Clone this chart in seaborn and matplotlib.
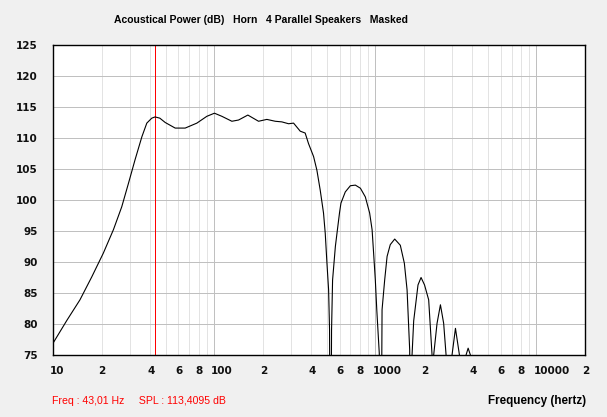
import numpy as np
import pandas as pd
import matplotlib
matplotlib.use("Agg")
import matplotlib.pyplot as plt
import matplotlib.transforms as mtransforms
import seaborn as sns
from matplotlib.ticker import FixedLocator, NullFormatter

# ---- data ----
freq_hz = [10, 12.2, 14.7, 17.4, 20.5, 23.7, 26.7, 29.4, 32.3, 35.6, 38.2, 41.0, 43.0,
           46.0, 49.7, 57.3, 66.1, 78.1, 90.1, 100.4, 111.6, 128.8, 141.7, 161.8, 188.5,
           212.3, 239.3, 263, 289.5, 311, 342, 367, 385, 414, 434, 455, 477, 489, 501, 513, 520,
           527,
           535, 543, 565, 578, 600, 612, 651, 700, 752, 808, 867, 922, 955, 976, 1000, 1021, 1058,
           1078,
           1101, 1143, 1183, 1238, 1319, 1429, 1514, 1574, 1634,
           1660,
           1690, 1730, 1840, 1922, 2020, 2143, 2249,
           2275,
           2302, 2415, 2535, 2655, 2748,
           2850,
           2992, 3142, 3326,
           3480,
           3656, 3766, 3890,
           4000]
spl_db = [76.9, 80.6, 83.9, 87.6, 91.4, 95.2, 98.9, 102.7, 106.5, 110.2, 112.4, 113.2, 113.4,
          113.2, 112.5, 111.6, 111.6, 112.4, 113.5, 114.0, 113.5, 112.7, 112.9, 113.7, 112.7,
          113.0, 112.7, 112.6, 112.3, 112.4, 111.1, 110.8, 109.1, 107.0, 104.8, 101.6, 97.9, 94.6, 89.8, 85.5, 79.0,
          40.0,
          79.0, 87.1, 92.5, 94.6, 98.0, 99.5, 101.3, 102.3, 102.4, 101.9, 100.5, 97.9, 95.2, 91.4, 87.1, 82.3, 75.3,
          40.0,
          82.3, 87.1, 90.9, 92.8, 93.7, 92.7, 89.8, 85.5, 75.8,
          40.0,
          75.0, 80.5, 86.3, 87.5, 86.3, 83.9, 75.0,
          40.0,
          75.0, 80.1, 83.1, 80.1, 75.0,
          40.0,
          75.0, 79.3, 75.0,
          40.0,
          75.0, 76.1, 75.0,
          40.0]

cursor_freq = 43.01
title_text = "Acoustical Power (dB)   Horn   4 Parallel Speakers   Masked"
status_text = "Freq : 43,01 Hz     SPL : 113,4095 dB"
xlabel_text = "Frequency (hertz)"
y_ticks = [75, 80, 85, 90, 95, 100, 105, 110, 115, 120, 125]
x_tick_vals = [10, 20, 40, 60, 80, 100, 200, 400, 600, 800, 1000, 2000, 4000, 6000, 8000, 10000, 20000]
x_tick_labels = ["10", "2", "4", "6", "8", "100", "2", "4", "6", "8", "1000", "2", "4", "6", "8", "10000", "2"]

df = pd.DataFrame({"freq": freq_hz, "spl": spl_db})

# ---- figure ----
W, H = 607, 417
fig = plt.figure(figsize=(W / 100, H / 100), dpi=100, facecolor="#f0f0f0")
ax = fig.add_axes([53 / W, 1 - 355 / H, (585 - 53) / W, (355 - 45) / H])
ax.set_facecolor("white")
ax.set_xscale("log")
ax.set_xlim(10, 20000)
ax.set_ylim(75, 125)

# grid
LW = 0.72
minor_pos = [m * 10 ** d for d in range(1, 5) for m in range(2, 10) if m * 10 ** d < 20000]
for x in minor_pos:
    ax.axvline(x, color="#e3e3e3", lw=LW, zorder=0)
for x in [100, 1000, 10000]:
    ax.axvline(x, color="#c0c0c0", lw=LW, zorder=0)
for y in y_ticks[1:-1]:
    ax.axhline(y, color="#c0c0c0", lw=LW, zorder=0)

ax.axvline(cursor_freq, color="#ff0000", lw=LW, zorder=1)

sns.lineplot(data=df, x="freq", y="spl", ax=ax, color="black", lw=0.8, zorder=2,
             sort=False, estimator=None)

ax.set_xlabel("")
ax.set_ylabel("")
ax.xaxis.set_major_locator(FixedLocator(x_tick_vals))
ax.set_xticklabels(x_tick_labels)
ax.xaxis.set_minor_formatter(NullFormatter())
ax.xaxis.set_minor_locator(FixedLocator([]))
ax.set_yticks(y_ticks)
ax.set_yticklabels([str(v) for v in y_ticks])
ax.tick_params(axis="both", length=0, labelsize=7.5, colors="#101010")
ax.tick_params(axis="y", pad=10.8)
ax.tick_params(axis="x", pad=8)
shift = mtransforms.ScaledTranslation(-3 / 100, 0, fig.dpi_scale_trans)
for lab in ax.get_xticklabels():
    lab.set_fontweight("bold")
    lab.set_horizontalalignment("left")
    lab.set_transform(lab.get_transform() + shift)
for lab in ax.get_yticklabels():
    lab.set_fontweight("bold")
for s in ax.spines.values():
    s.set_color("black")
    s.set_linewidth(1.0)

fig.text(261 / W, 1 - 20 / H, title_text, ha="center", va="center",
         fontsize=7.5, fontweight="bold", family="Liberation Sans")
fig.text(52 / W, 1 - 401 / H, status_text, ha="left", va="center",
         fontsize=7.6, color="#ff0000", family="Liberation Sans")
fig.text(586 / W, 1 - 401 / H, xlabel_text, ha="right", va="center",
         fontsize=8.4, fontweight="bold", family="Liberation Sans")

fig.savefig("out.png", dpi=100, facecolor=fig.get_facecolor())
